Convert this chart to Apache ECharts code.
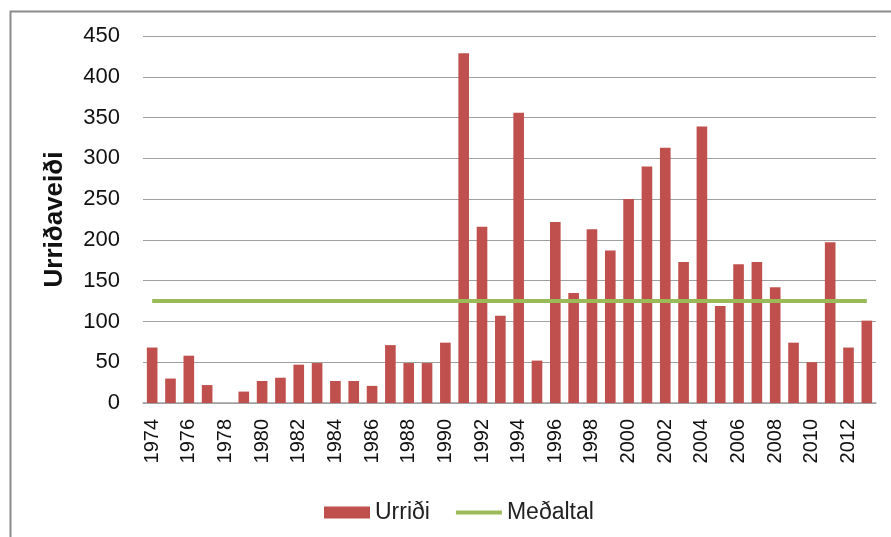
<!DOCTYPE html>
<html>
<head>
<meta charset="utf-8">
<script src="https://cdn.jsdelivr.net/npm/echarts@6/dist/echarts.min.js"></script>
<style>
html,body{margin:0;padding:0;background:#fff;}
#chart{width:891px;height:537px;}
</style>
</head>
<body>
<div id="chart"></div>
<script>
const years = ['1974','1975','1976','1977','1978','1979','1980','1981','1982','1983',
  '1984','1985','1986','1987','1988','1989','1990','1991','1992','1993',
  '1994','1995','1996','1997','1998','1999','2000','2001','2002','2003',
  '2004','2005','2006','2007','2008','2009','2010','2011','2012','2013'];
const urridi = [68,30,58,22,0,14,27,31,47,49,
  27,27,21,71,49,49,74,429,216,107,
  356,52,222,135,213,187,250,290,313,173,
  339,119,170,173,142,74,50,197,68,101];
const medaltal = [125,125,125,125,125,125,125,125,125,125,
  125,125,125,125,125,125,125,125,125,125,
  125,125,125,125,125,125,125,125,125,125,
  125,125,125,125,125,125,125,125,125,125];
const yTicks = {min:0, max:450, interval:50};

const chart = echarts.init(document.getElementById('chart'));
const FONT = 'Liberation Sans';
chart.setOption({
  animation:false,
  backgroundColor:'#ffffff',
  graphic:[{
    type:'rect', left:8, top:9, silent:true,
    shape:{x:0,y:0,width:1000,height:1000},
    style:{fill:'none', stroke:'#8c8c8c', lineWidth:2}
  }],
  grid:{left:143, right:15, top:36, bottom:134},
  legend:{
    left:319, top:496,
    itemWidth:46, itemHeight:12, itemGap:26,
    textStyle:{fontFamily:FONT, fontSize:23, color:'#222'},
    data:[
      {name:'Urriði', icon:'rect'},
      {name:'Meðaltal', icon:'path://M0,0 M46,12 M0,4 L46,4 L46,8 L0,8 Z'}
    ]
  },
  xAxis:{
    type:'category', data:years,
    axisLine:{lineStyle:{color:'#a0a0a0', width:1.5}},
    axisTick:{show:false},
    axisLabel:{interval:1, rotate:90, margin:16, fontFamily:FONT, fontSize:20, color:'#111'}
  },
  yAxis:{
    type:'value', min:yTicks.min, max:yTicks.max, interval:yTicks.interval,
    name:'Urriðaveiði', nameLocation:'middle', nameRotate:90, nameGap:75,
    nameTextStyle:{fontFamily:FONT, fontSize:26, fontWeight:'bold', color:'#111'},
    axisLine:{show:false}, axisTick:{show:false},
    axisLabel:{margin:23, fontFamily:FONT, fontSize:22, color:'#111'},
    splitLine:{lineStyle:{color:'#a0a0a0', width:1.2}}
  },
  series:[
    {name:'Urriði', type:'bar', data:urridi, barWidth:'58%',
     itemStyle:{color:'#C0504D'}},
    {name:'Meðaltal', type:'line', data:medaltal, symbol:'none',
     lineStyle:{color:'#9BBB59', width:4}, itemStyle:{color:'#9BBB59'}}
  ]
});
</script>
</body>
</html>
